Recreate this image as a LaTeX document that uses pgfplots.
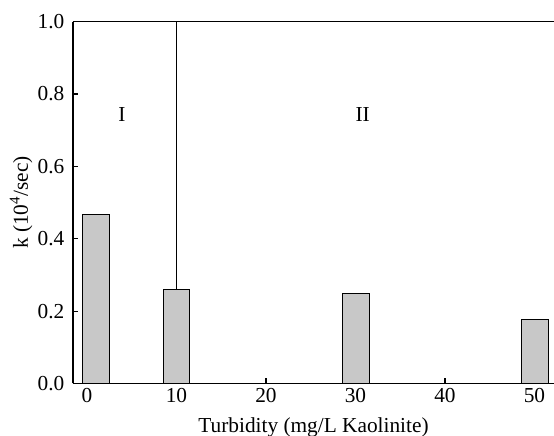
\documentclass[border=0pt]{standalone}
\usepackage{pgfplots}
\pgfplotsset{compat=1.18}
\usepackage{fontspec}
\setmainfont{Liberation Serif}
\definecolor{barfill}{RGB}{200,200,200}
\begin{document}
\begin{tikzpicture}
\useasboundingbox (0pt,0pt) rectangle (415.5pt,327pt);
\begin{axis}[
  at={(54.75pt,39.4pt)}, anchor=south west,
  scale only axis,
  width=360.75pt, height=271.35pt,
  xmin=-1.56, xmax=52.18, ymin=0, ymax=1,
  axis x line*=bottom, axis y line*=left,
  axis line style={-, line width=0.9pt},
  tick align=inside,
  major tick length=4pt,
  tick style={line width=0.8pt, black},
  xtick={0,10,20,30,40,50},
  ytick={0,0.2,0.4,0.6,0.8,1.0},
  /pgf/number format/assume math mode=true,
  yticklabel style={xshift=-3pt, /pgf/number format/.cd, fixed, fixed zerofill, precision=1},
  xticklabel style={/pgf/number format/.cd, fixed, precision=0},
  ticklabel style={font=\fontsize{16}{18}\selectfont},
  label style={font=\fontsize{16}{18}\selectfont},
  xlabel={Turbidity (mg/L Kaolinite)},
  ylabel={k (10\textsuperscript{4}/sec)},
  xlabel style={yshift=-4.5pt},
  ylabel style={yshift=-3pt},
  clip=false,
]
\addplot[ybar, bar width=3.0, fill=barfill, draw=black, line width=0.6pt]
  coordinates {(1,0.467) (10,0.261) (30,0.250) (50,0.177)};
\addplot[black, line width=0.8pt] coordinates {(10,0.261) (10,1)};
\draw[line width=0.9pt] (rel axis cs:0,1) -- (rel axis cs:1.02,1);
\node[font=\fontsize{16}{18}\selectfont] at (axis cs:3.9,0.742) {I};
\node[font=\fontsize{16}{18}\selectfont] at (axis cs:30.8,0.742) {II};
\end{axis}
\end{tikzpicture}
\end{document}
